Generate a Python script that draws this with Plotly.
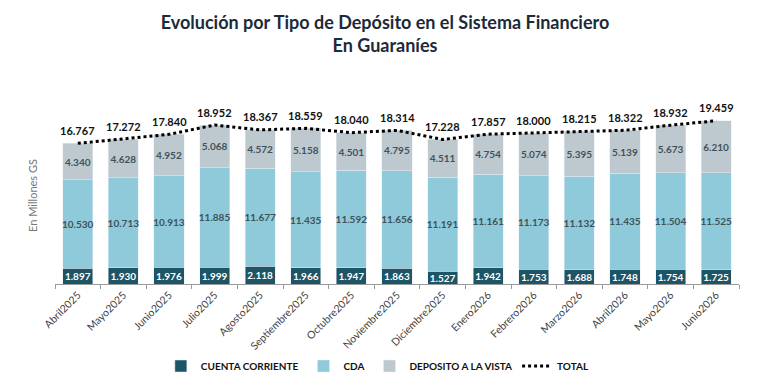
import plotly.graph_objects as go

months = ["Abril2025", "Mayo2025", "Junio2025", "Julio2025", "Agosto2025", "Septiembre2025",
          "Octubre2025", "Noviembre2025", "Diciembre2025", "Enero2026", "Febrero2026",
          "Marzo2026", "Abril2026", "Mayo2026", "Junio2026"]
cuenta_corriente = [1897, 1930, 1976, 1999, 2118, 1966, 1947, 1863, 1527, 1942, 1753, 1688, 1748, 1754, 1725]
cda = [10530, 10713, 10913, 11885, 11677, 11435, 11592, 11656, 11191, 11161, 11173, 11132, 11435, 11504, 11525]
deposito_vista = [4340, 4628, 4952, 5068, 4572, 5158, 4501, 4795, 4511, 4754, 5074, 5395, 5139, 5673, 6210]
total = [16767, 17272, 17840, 18952, 18367, 18559, 18040, 18314, 17228, 17857, 18000, 18215, 18322, 18932, 19459]


def fmt(v):
    return f"{v:,}".replace(",", ".")


FONT = "Lato, 'Open Sans', sans-serif"
C_CC = "#1e5566"
C_CDA = "#8ecad9"
C_DV = "#bec9cf"
TXT = "#3e525c"

fig = go.Figure()
fig.add_trace(go.Bar(
    x=months, y=cuenta_corriente, name="<b>CUENTA CORRIENTE</b>", marker_color=C_CC,
    text=["<b>" + fmt(v) + "</b>" for v in cuenta_corriente], textposition="inside", insidetextanchor="middle",
    textfont=dict(color="white", size=10, family=FONT), textangle=0,
))
fig.add_trace(go.Bar(
    x=months, y=cda, name="<b>CDA</b>", marker_color=C_CDA,
    text=["<b>" + fmt(v) + "</b>" for v in cda], textposition="inside", insidetextanchor="middle",
    textfont=dict(color=TXT, size=10, family=FONT), textangle=0,
))
fig.add_trace(go.Bar(
    x=months, y=deposito_vista, name="<b>DEPOSITO A LA VISTA</b>", marker_color=C_DV,
    text=["<b>" + fmt(v) + "</b>" for v in deposito_vista], textposition="inside", insidetextanchor="middle",
    textfont=dict(color=TXT, size=10, family=FONT), textangle=0,
))
fig.add_trace(go.Scatter(
    x=months, y=total, name="<b>TOTAL</b>", mode="lines",
    line=dict(color="black", width=3, dash="dot"), hoverinfo="skip",
))

for m, v in zip(months, total):
    fig.add_annotation(
        x=m, y=v, text="<b>" + fmt(v) + "</b>", showarrow=False,
        yshift=13, font=dict(color="#111111", size=11, family=FONT),
    )

fig.update_layout(
    barmode="stack",
    bargap=0.34,
    width=770, height=385,
    margin=dict(l=55, r=31, t=107, b=101, autoexpand=False),
    paper_bgcolor="white", plot_bgcolor="white",
    font=dict(family=FONT),
    uniformtext=dict(minsize=10, mode="show"),
    title=dict(
        text="<b>Evolución por Tipo de Depósito en el Sistema Financiero<br>En Guaraníes</b>",
        x=0.5, xanchor="center", y=1 - 29 / 385, yanchor="middle",
        font=dict(size=18, color="#1c2a3a", family=FONT),
    ),
    legend=dict(
        orientation="h", x=0.472, xanchor="center", yref="container", y=1 - 366 / 385, yanchor="middle",
        font=dict(size=10, color="#111111", family=FONT),
        traceorder="normal",
    ),
    showlegend=True,
)
fig.update_xaxes(
    showline=True, linecolor="#9a9a9a", linewidth=1,
    ticks="outside", tickson="boundaries", ticklen=4, tickcolor="#9a9a9a",
    tickangle=-45, tickfont=dict(size=10.5, color="#444444", family=FONT),
    automargin=False,
)
fig.update_yaxes(
    range=[0, 21100], showgrid=False, showticklabels=False, zeroline=False,
    title=dict(text="En Millones GS", font=dict(size=11, color="#777777", family=FONT), standoff=14),
    automargin=False,
)

fig.write_html("out.html")
